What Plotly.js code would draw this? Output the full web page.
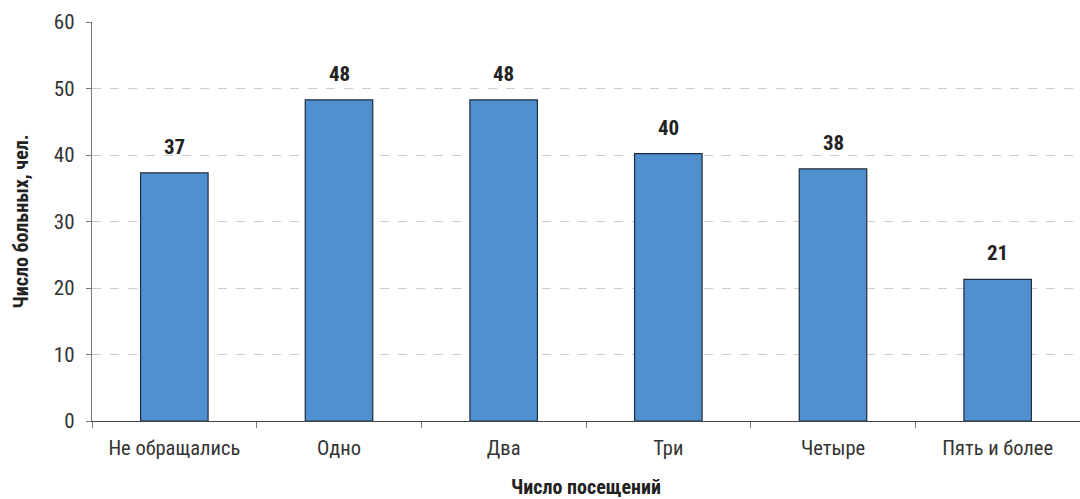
<!DOCTYPE html>
<html><head><meta charset="utf-8">
<script src="https://cdn.plot.ly/plotly-3.0.1.min.js"></script>
<style>html,body{margin:0;padding:0;background:#fff}#c{width:1080px;height:499px}</style>
</head><body><div id="c"></div>
<script>
const categories = ["Не обращались", "Одно", "Два", "Три", "Четыре", "Пять и более"];
const patients = [37.3, 48.3, 48.3, 40.2, 37.9, 21.3];
const yTicks = [0, 10, 20, 30, 40, 50, 60];
const FONT = "'Roboto Condensed', 'DejaVu Sans Condensed', sans-serif";

const labels = categories.map((c, i) => ({
  x: c, y: patients[i], xref: 'x', yref: 'y',
  text: '<b>' + Math.round(patients[i]) + '</b>',
  showarrow: false, yanchor: 'bottom', yshift: 12,
  font: {family: FONT, size: 21, color: '#222'}
}));

Plotly.newPlot('c', [{
  type: 'bar',
  x: categories,
  y: patients,
  width: 0.41,
  marker: {color: '#5090cf', line: {color: '#1f2d3d', width: 1.2}},
  hoverinfo: 'none'
}], {
  width: 1080, height: 499,
  margin: {l: 92, r: 0, t: 22, b: 78},
  paper_bgcolor: '#fff', plot_bgcolor: '#fff',
  font: {family: FONT, size: 20, color: '#333'},
  showlegend: false,
  annotations: labels,
  xaxis: {
    type: 'category',
    showline: true, linecolor: '#444', linewidth: 1.2,
    ticks: 'outside', tickson: 'boundaries', ticklen: 6, tickcolor: '#777',
    tickfont: {family: FONT, size: 20.5, color: '#333'},
    ticklabelstandoff: 8,
    showgrid: false,
    title: {text: '<b>Число посещений</b>', font: {family: FONT, size: 20, color: '#222'}, standoff: 29}
  },
  yaxis: {
    range: [0, 60],
    tickvals: yTicks,
    showline: true, linecolor: '#777', linewidth: 1.2,
    ticks: 'outside', ticklen: 5, tickcolor: '#777',
    tickfont: {family: FONT, size: 21, color: '#333'},
    ticklabelstandoff: 7,
    showgrid: true, gridcolor: '#cccccc', griddash: 'dash', gridwidth: 1,
    zeroline: false,
    title: {text: '<b>Число больных, чел.</b>', font: {family: FONT, size: 20, color: '#222'}, standoff: 19}
  }
}, {displayModeBar: false, staticPlot: true});
</script></body></html>
